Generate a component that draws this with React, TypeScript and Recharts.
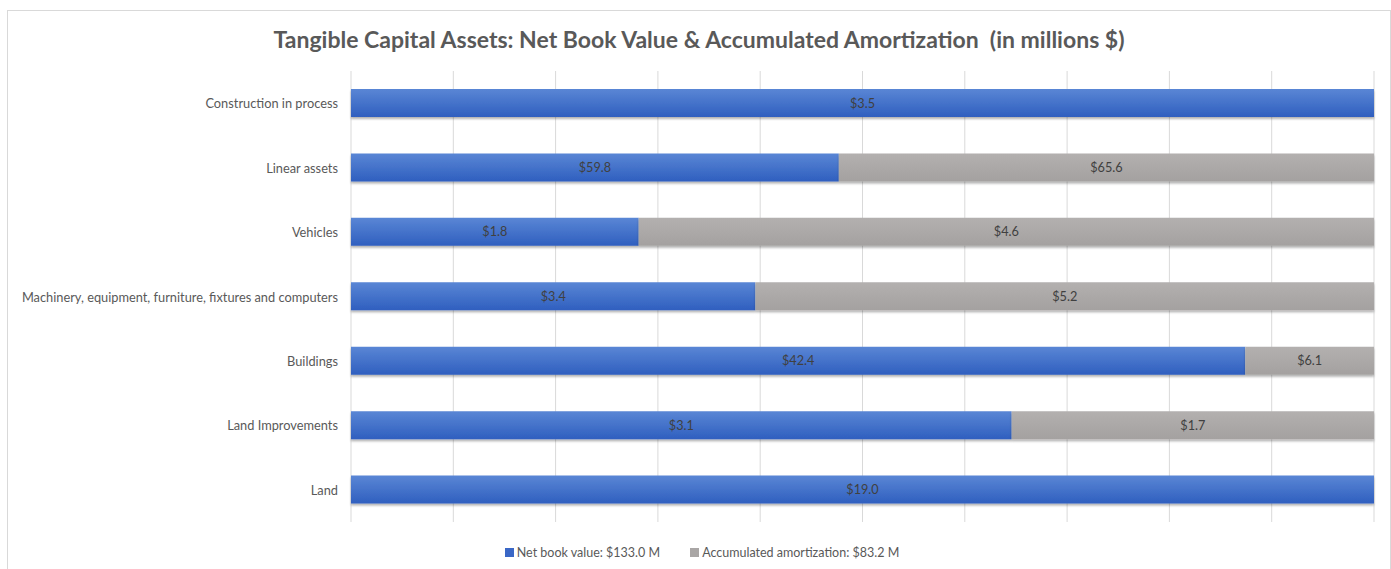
import React from "react";
import {
  BarChart,
  Bar,
  XAxis,
  YAxis,
  CartesianGrid,
  Legend,
  LabelList,
} from "recharts";

const categories = [
  "Construction in process",
  "Linear assets",
  "Vehicles",
  "Machinery, equipment, furniture, fixtures and computers",
  "Buildings",
  "Land Improvements",
  "Land",
];
const netBookValue = [3.5, 59.8, 1.8, 3.4, 42.4, 3.1, 19.0];
const accumulatedAmortization = [0, 65.6, 4.6, 5.2, 6.1, 1.7, 0];
const xTicks = [0, 0.1, 0.2, 0.3, 0.4, 0.5, 0.6, 0.7, 0.8, 0.9, 1];

const data = categories.map((name, i) => ({
  name,
  nbv: netBookValue[i],
  amort: accumulatedAmortization[i],
}));

const FONT = "Lato, 'Liberation Sans', sans-serif";

const fmt = (v: any) => (v ? `$${Number(v).toFixed(1)}` : "");

function LegendBox() {
  const item = (color: string, text: string) => (
    <span style={{ display: "inline-flex", alignItems: "center", margin: "0 15px" }}>
      <span style={{ width: 9, height: 9, background: color, marginRight: 3, display: "inline-block" }} />
      <span>{text}</span>
    </span>
  );
  return (
    <div
      style={{
        textAlign: "center",
        fontFamily: FONT,
        fontSize: 12.5,
        color: "#595959",
        paddingLeft: 22,
      }}
    >
      {item("#3a67c6", "Net book value: $133.0 M")}
      {item("#a9a6a5", "Accumulated amortization: $83.2 M")}
    </div>
  );
}

function CatTick(props: any) {
  const { x, y, payload } = props;
  return (
    <text
      x={x}
      y={y}
      textAnchor="end"
      dominantBaseline="central"
      fontSize={12.8}
      fill="#595959"
      fontFamily={FONT}
    >
      {payload.value}
    </text>
  );
}

export default function App() {
  return (
    <div
      style={{
        position: "absolute",
        left: 7,
        top: 10,
        width: 1382,
        height: 570,
        border: "1px solid #d9d9d9",
        background: "#fff",
      }}
    >
      <div
        style={{
          position: "absolute",
          top: 14,
          width: "100%",
          textAlign: "center",
          fontFamily: FONT,
          fontWeight: 700,
          fontSize: 23,
          color: "#595959",
        }}
      >
        Tangible Capital Assets: Net Book Value &amp; Accumulated Amortization&nbsp; (in millions $)
      </div>
      <BarChart
        width={1382}
        height={570}
        data={data}
        layout="vertical"
        stackOffset="expand"
        barSize={28}
        margin={{ top: 60, right: 16, bottom: 44, left: 0 }}
      >
        <defs>
          <linearGradient id="gBlue" x1="0" y1="0" x2="0" y2="1">
            <stop offset="0%" stopColor="#5a86d5" />
            <stop offset="100%" stopColor="#2f5fbf" />
          </linearGradient>
          <linearGradient id="gGray" x1="0" y1="0" x2="0" y2="1">
            <stop offset="0%" stopColor="#b3b0af" />
            <stop offset="100%" stopColor="#a4a1a0" />
          </linearGradient>
          <filter id="shadow" x="-5%" y="-20%" width="110%" height="160%">
            <feDropShadow dx="0" dy="2" stdDeviation="1.2" floodColor="#000" floodOpacity="0.3" />
          </filter>
        </defs>
        <CartesianGrid horizontal={false} stroke="#d9d9d9" />
        <XAxis
          type="number"
          domain={[0, 1]}
          ticks={xTicks}
          tick={() => <g />}
          tickLine={false}
          axisLine={false}
          height={0}
        />
        <YAxis
          type="category"
          dataKey="name"
          width={343}
          tickLine={false}
          axisLine={false}
          tickSize={0}
          tickMargin={13}
          interval={0}
          tick={<CatTick />}
        />
        <Legend content={<LegendBox />} verticalAlign="bottom" wrapperStyle={{ bottom: 21 }} />
        <Bar dataKey="nbv" stackId="a" fill="url(#gBlue)" filter="url(#shadow)" isAnimationActive={false}>
          <LabelList dataKey="nbv" position="center" formatter={fmt} fill="#404040" fontSize={12.7} fontFamily={FONT} />
        </Bar>
        <Bar dataKey="amort" stackId="a" fill="url(#gGray)" filter="url(#shadow)" isAnimationActive={false}>
          <LabelList dataKey="amort" position="center" formatter={fmt} fill="#404040" fontSize={12.7} fontFamily={FONT} />
        </Bar>
      </BarChart>
    </div>
  );
}
